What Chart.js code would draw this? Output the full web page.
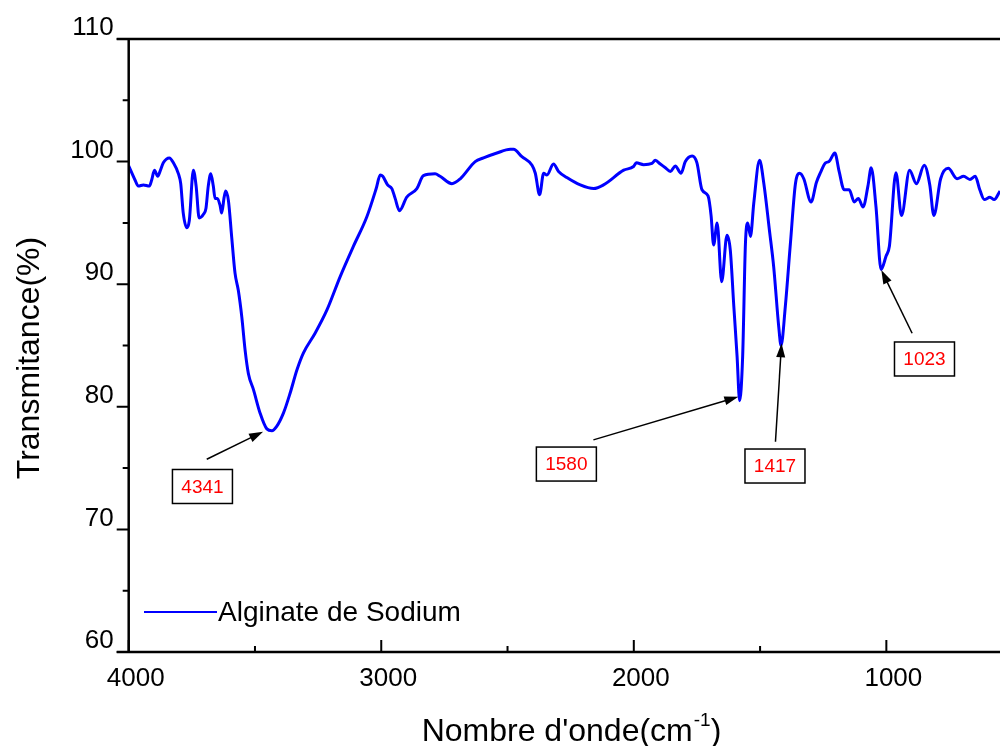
<!DOCTYPE html>
<html>
<head>
<meta charset="utf-8">
<title>Alginate de Sodium - IR</title>
<script src="https://cdn.jsdelivr.net/npm/chart.js@4.4.1/dist/chart.umd.min.js"></script>
<style>
    html, body { margin: 0; padding: 0; background: #fff; }
    #wrap { width: 1000px; height: 746px; }
</style>
</head>
<body>
<div id="wrap"><canvas id="chart-ir" width="1000" height="746"></canvas></div>
<script>
'use strict';

// ---- data ----
var seriesLabel = 'Alginate de Sodium';
var wavenumbers = [
    4000, 3975, 3962, 3942, 3918, 3909, 3898, 3885, 3876, 3863, 3839, 3823, 3803, 3794, 3784, 3770,
    3760, 3744, 3733, 3721, 3704, 3694, 3685, 3675, 3665, 3658, 3649, 3638, 3632, 3622, 3616, 3605,
    3592, 3579, 3566, 3552, 3539, 3526, 3506, 3480, 3453, 3433, 3414, 3387, 3361, 3334, 3308, 3262,
    3215, 3163, 3110, 3057, 3020, 3004, 2994, 2975, 2958, 2945, 2928, 2899, 2859, 2833, 2787, 2767,
    2720, 2687, 2628, 2595, 2542, 2489, 2476, 2443, 2403, 2390, 2373, 2357, 2344, 2318, 2298, 2265,
    2212, 2159, 2120, 2040, 2001, 1990, 1961, 1928, 1915, 1895, 1875, 1855, 1836, 1813, 1796, 1769,
    1750, 1730, 1706, 1694, 1684, 1670, 1652, 1631, 1618, 1604, 1591, 1581, 1569, 1558, 1549, 1538,
    1525, 1502, 1485, 1463, 1446, 1426, 1417, 1400, 1380, 1360, 1343, 1327, 1298, 1277, 1261, 1241,
    1227, 1204, 1187, 1167, 1147, 1127, 1111, 1092, 1073, 1060, 1041, 1021, 1001, 988, 962, 940,
    908, 881, 850, 828, 812, 785, 755, 720, 694, 669, 648, 630, 612, 590, 573, 550
];
var transmittance = [
    99.65, 98.5, 98.0, 98.1, 98.0, 98.5, 99.3, 98.8, 99.2, 99.9, 100.3, 99.9, 99.0, 98.2, 95.8, 94.6,
    95.2, 99.3, 98.0, 95.4, 95.7, 96.2, 98.0, 99.0, 98.0, 97.0, 97.0, 96.4, 95.8, 97.1, 97.6, 96.8,
    93.8, 90.9, 89.5, 87.3, 84.6, 82.7, 81.4, 79.5, 78.2, 78.05, 78.4, 79.5, 81.1, 83.0, 84.4, 86.0,
    87.9, 90.6, 93.1, 95.5, 97.8, 98.9, 98.8, 98.1, 97.8, 97.0, 96.0, 97.1, 97.8, 98.85, 99.0, 98.8,
    98.2, 98.6, 100.0, 100.3, 100.7, 101.0, 101.0, 100.4, 99.7, 99.05, 97.3, 99.05, 98.9, 99.8, 99.2, 98.7,
    98.1, 97.8, 98.1, 99.3, 99.6, 99.9, 99.75, 99.85, 100.1, 99.8, 99.5, 99.2, 99.65, 99.05, 100.0, 100.45,
    99.9, 97.7, 97.2, 95.6, 93.2, 95.0, 90.2, 94.0, 92.8, 88.2, 84.1, 80.5, 84.1, 93.3, 95.0, 93.9,
    96.6, 100.1, 98.2, 94.4, 91.4, 86.5, 85.0, 88.2, 93.3, 98.2, 99.05, 98.6, 96.7, 98.3, 99.1, 99.9,
    100.0, 100.7, 99.2, 97.7, 97.7, 96.7, 97.0, 96.3, 98.0, 99.5, 96.3, 91.2, 92.3, 93.1, 99.1, 95.6,
    99.3, 98.2, 99.7, 98.1, 95.6, 98.6, 99.45, 98.6, 98.8, 98.55, 98.8, 97.7, 96.9, 97.1, 96.9, 97.6
];

var xMajorTicks = [4000, 3000, 2000, 1000];
var xMinorTicks = [3500, 2500, 1500];
var yMajorTicks = [60, 70, 80, 90, 100, 110];
var yMinorTicks = [65, 75, 85, 95, 105];

// peak call-outs (data units: [wavenumber, transmittance])
var peakLabels = ['4341', '1580', '1417', '1023'];
var peakTips   = [[3468, 77.97], [1586, 80.82], [1415, 85.18], [1020, 91.16]];
var peakTails  = [[3691, 75.72], [2160, 77.3], [1439, 77.15], [898, 86.0]];
var peakBoxes  = [[3708, 73.5], [2267, 75.33], [1441, 75.17], [849, 83.9]];

var FONT = 'Arial, "Liberation Sans", sans-serif';
var LINE_BLUE = '#0000ff';

function drawArrow(ctx, x0, y0, x1, y1) {
    var ang = Math.atan2(y1 - y0, x1 - x0);
    var len = 14, half = 4.5;
    ctx.beginPath();
    ctx.moveTo(x0, y0);
    ctx.lineTo(x1 - Math.cos(ang) * len * 0.8, y1 - Math.sin(ang) * len * 0.8);
    ctx.stroke();
    ctx.beginPath();
    ctx.moveTo(x1, y1);
    ctx.lineTo(x1 - Math.cos(ang) * len + Math.sin(ang) * half, y1 - Math.sin(ang) * len - Math.cos(ang) * half);
    ctx.lineTo(x1 - Math.cos(ang) * len - Math.sin(ang) * half, y1 - Math.sin(ang) * len + Math.cos(ang) * half);
    ctx.closePath();
    ctx.fill();
}

var originFrame = {
    id: 'originFrame',
    afterDraw: function(chart) {
        var ctx = chart.ctx;
        var area = chart.chartArea;
        var xs = chart.scales.x, ys = chart.scales.y;
        ctx.save();

        // axis frame (left, bottom, top)
        ctx.strokeStyle = '#000';
        ctx.lineWidth = 2.5;
        ctx.beginPath();
        ctx.moveTo(area.left - 12, area.top); ctx.lineTo(area.right, area.top);
        ctx.moveTo(area.left, area.top); ctx.lineTo(area.left, area.bottom);
        ctx.moveTo(area.left - 12, area.bottom); ctx.lineTo(area.right, area.bottom);
        ctx.stroke();

        // ticks: y outward, x inward
        ctx.lineWidth = 2;
        ctx.beginPath();
        yMajorTicks.forEach(function(v) {
            var p = ys.getPixelForValue(v);
            ctx.moveTo(area.left - 12, p); ctx.lineTo(area.left, p);
        });
        yMinorTicks.forEach(function(v) {
            var p = ys.getPixelForValue(v);
            ctx.moveTo(area.left - 6, p); ctx.lineTo(area.left, p);
        });
        xMajorTicks.forEach(function(v) {
            var p = xs.getPixelForValue(v);
            ctx.moveTo(p, area.bottom); ctx.lineTo(p, area.bottom - 12);
        });
        xMinorTicks.forEach(function(v) {
            var p = xs.getPixelForValue(v);
            ctx.moveTo(p, area.bottom); ctx.lineTo(p, area.bottom - 6);
        });
        ctx.stroke();

        // legend
        var ds = chart.data.datasets[0];
        ctx.strokeStyle = ds.borderColor;
        ctx.lineWidth = 2;
        ctx.beginPath();
        ctx.moveTo(144, 612); ctx.lineTo(217, 612);
        ctx.stroke();
        ctx.fillStyle = '#000';
        ctx.font = '28px ' + FONT;
        ctx.textAlign = 'left';
        ctx.textBaseline = 'middle';
        ctx.fillText(ds.label, 218, 613);

        // peak call-outs
        ctx.strokeStyle = '#000';
        ctx.fillStyle = '#000';
        ctx.lineWidth = 1.5;
        peakLabels.forEach(function(lbl, i) {
            var tx = xs.getPixelForValue(peakTips[i][0]), ty = ys.getPixelForValue(peakTips[i][1]);
            var sx = xs.getPixelForValue(peakTails[i][0]), sy = ys.getPixelForValue(peakTails[i][1]);
            drawArrow(ctx, sx, sy, tx, ty);
        });
        ctx.font = '19px ' + FONT;
        ctx.textAlign = 'center';
        peakLabels.forEach(function(lbl, i) {
            var bx = xs.getPixelForValue(peakBoxes[i][0]), by = ys.getPixelForValue(peakBoxes[i][1]);
            var w = 60, h = 34;
            ctx.fillStyle = '#fff';
            ctx.fillRect(bx - w / 2, by - h / 2, w, h);
            ctx.strokeStyle = '#000';
            ctx.strokeRect(bx - w / 2, by - h / 2, w, h);
            ctx.fillStyle = '#ff0000';
            ctx.fillText(lbl, bx, by + 1);
        });

        // axis titles
        ctx.fillStyle = '#000';
        ctx.font = '32px ' + FONT;
        ctx.textBaseline = 'alphabetic';
        ctx.textAlign = 'left';
        var main = "Nombre d'onde(cm", sup = '-1', tail = ')';
        var wMain = ctx.measureText(main).width;
        var wTail = ctx.measureText(tail).width;
        ctx.font = '19px ' + FONT;
        var wSup = ctx.measureText(sup).width;
        var x0 = 571 - (wMain + wSup + wTail) / 2;
        var base = 741;
        ctx.font = '32px ' + FONT;
        ctx.fillText(main, x0, base);
        ctx.fillText(tail, x0 + wMain + wSup + 1, base);
        ctx.font = '19px ' + FONT;
        ctx.fillText(sup, x0 + wMain + 1, base - 15);

        ctx.font = '32px ' + FONT;
        ctx.textAlign = 'center';
        ctx.textBaseline = 'middle';
        ctx.translate(30, 358);
        ctx.rotate(-Math.PI / 2);
        ctx.fillText('Transmitance(%)', 0, 0);
        ctx.restore();
    }
};

var points = wavenumbers.map(function(w, i) { return { x: w, y: transmittance[i] }; });

function plainLabel(v) { return String(v); }

new Chart(document.getElementById('chart-ir'), {
    type: 'line',
    data: {
        datasets: [{
            label: seriesLabel,
            data: points,
            borderColor: LINE_BLUE,
            borderWidth: 3,
            pointRadius: 0,
            fill: false,
            cubicInterpolationMode: 'monotone'
        }]
    },
    options: {
        responsive: false,
        animation: false,
        layout: { padding: { top: 39, right: 0, bottom: 0, left: 0 } },
        plugins: { legend: { display: false }, tooltip: { enabled: false } },
        scales: {
            x: {
                type: 'linear',
                reverse: true,
                min: 550,
                max: 4000,
                grid: { display: false, drawTicks: false },
                border: { display: false },
                afterBuildTicks: function(s) { s.ticks = xMajorTicks.map(function(v) { return { value: v }; }); },
                afterFit: function(s) { s.height = 94; },
                ticks: {
                    color: '#000',
                    font: { family: FONT, size: 26 },
                    padding: 11,
                    labelOffset: 7,
                    maxRotation: 0,
                    autoSkip: false,
                    callback: plainLabel
                }
            },
            y: {
                min: 60,
                max: 110,
                grid: { display: false, drawTicks: false },
                border: { display: false },
                afterBuildTicks: function(s) { s.ticks = yMajorTicks.map(function(v) { return { value: v }; }); },
                afterFit: function(s) { s.width = 128.7; },
                ticks: {
                    color: '#000',
                    font: { family: FONT, size: 26 },
                    padding: 15,
                    labelOffset: -11,
                    autoSkip: false,
                    callback: plainLabel
                }
            }
        }
    },
    plugins: [originFrame]
});
</script>
</body>
</html>
